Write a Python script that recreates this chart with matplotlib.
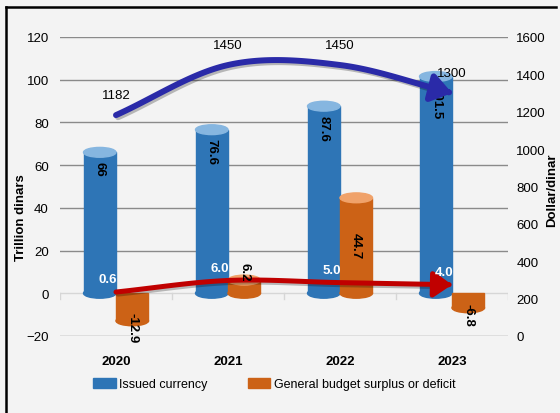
import numpy as np
import matplotlib
matplotlib.use("Agg")
import matplotlib.pyplot as plt
from matplotlib.patches import Rectangle, Ellipse, FancyArrowPatch
from matplotlib.path import Path
from matplotlib.lines import Line2D
import matplotlib.patheffects as pe

plt.rcParams["font.family"] = ["Liberation Sans", "DejaVu Sans"]
plt.rcParams["font.size"] = 9

# data
years = ["2020", "2021", "2022", "2023"]
issued_currency = [66, 76.6, 87.6, 101.5]          # trillion dinars
budget_balance = [-12.9, 6.2, 44.7, -6.8]          # trillion dinars
exchange_rate = [1182, 1450, 1450, 1300]           # dollar/dinar (right axis)
red_series = [0.6, 6.0, 5.0, 4.0]                  # left axis
red_labels = ["0.6", "6.0", "5.0", "4.0"]

BLUE = "#2e75b6"
BLUE_TOP = "#86b6e0"
ORANGE = "#cc6216"
ORANGE_TOP = "#f0a26a"
BG = "#f3f3f3"


def catmull_rom(xs, ys, n=40):
    """smooth curve through the given points"""
    p = np.column_stack([xs, ys]).astype(float)
    p = np.vstack([2 * p[0] - p[1], p, 2 * p[-1] - p[-2]])
    out = []
    for i in range(1, len(p) - 2):
        p0, p1, p2, p3 = p[i - 1], p[i], p[i + 1], p[i + 2]
        t = np.linspace(0, 1, n, endpoint=(i == len(p) - 3))[:, None]
        seg = 0.5 * ((2 * p1) + (-p0 + p2) * t + (2 * p0 - 5 * p1 + 4 * p2 - p3) * t ** 2
                     + (-p0 + 3 * p1 - 3 * p2 + p3) * t ** 3)
        out.append(seg)
    return np.vstack(out)


def cylinder(ax, xc, v, w, color, top_color, cap_h):
    lo, hi = min(0, v), max(0, v)
    ax.add_patch(Ellipse((xc, lo), w, cap_h, color=color, zorder=3))
    ax.add_patch(Rectangle((xc - w / 2, lo), w, hi - lo, color=color, zorder=3))
    if v > 0:
        ax.add_patch(Ellipse((xc, hi), w, cap_h, color=top_color, zorder=4))


def curved_arrow(ax, xs, ys, color, lw, head):
    pts = catmull_rom(xs, ys)
    # soft shadow under the stroke
    ax.plot(pts[:-6, 0], pts[:-6, 1], lw=lw, solid_capstyle="round", zorder=5,
            path_effects=[pe.SimpleLineShadow(offset=(1.5, -1.5), alpha=0.25)])
    arr = FancyArrowPatch(path=Path(pts), arrowstyle="-|>,head_length=1.0,head_width=0.7",
                          mutation_scale=head, color=color, lw=lw, zorder=6,
                          transform=ax.transData)
    ax.add_patch(arr)


fig = plt.figure(figsize=(5.6, 4.14), dpi=100, facecolor=BG)
ax = fig.add_axes([60 / 560, 1 - 337 / 414, 448 / 560, 299 / 414])
ax.set_facecolor(BG)
ax2 = ax.twinx()

x = np.arange(len(years))
w = 0.29
cap_h = 4.6

ax.set_xlim(-0.5, 3.5)
ax.set_ylim(-20, 120)
ax2.set_ylim(0, 1600)

# grid
for gy in [-20, 20, 40, 60, 80, 100, 120]:
    ax.axhline(gy, color="#8a8a8a", lw=1.0, zorder=1)
ax.axhline(0, color="#d6d6d6", lw=1.0, zorder=1)
for b in np.arange(-0.5, 4.0, 1.0):
    ax.plot([b, b], [0, -2.5], color="#d6d6d6", lw=1.0, zorder=1)

for i in range(len(years)):
    cylinder(ax, x[i] - w / 2, issued_currency[i], w, BLUE, BLUE_TOP, cap_h)
    cylinder(ax, x[i] + w / 2, budget_balance[i], w, ORANGE, ORANGE_TOP, cap_h)

    v = issued_currency[i]
    ax.text(x[i] - w / 2, v - 4, f"{v:g}", rotation=270, ha="center", va="top",
            fontsize=9.5, fontweight="bold", color="black", zorder=7)
    b = budget_balance[i]
    if b < 0:
        by = b - 3
    elif b > 20:
        by = b / 2
    else:
        by = b + 4
    ax.text(x[i] + w / 2, by, f"{b:g}", rotation=270, ha="center", va="center",
            fontsize=9.5, fontweight="bold", color="black", zorder=7)

# red arrow on left axis
curved_arrow(ax, x, red_series, "#c00000", 3.6, 11)
for i, lab in enumerate(red_labels):
    ax.annotate(lab, (x[i], red_series[i]), xytext=(-6, 5), textcoords="offset points",
                ha="center", va="bottom", color="white", fontsize=9.5,
                fontweight="bold", zorder=8)

# blue arrow on right axis
curved_arrow(ax2, x, exchange_rate, "#2a2aa8", 4.3, 12)
for i, val in enumerate(exchange_rate):
    ax2.annotate(str(val), (x[i], val), xytext=(0, 10), textcoords="offset points",
                 ha="center", va="bottom", fontsize=9.5, color="black")

# axes styling
for a in (ax, ax2):
    for s in a.spines.values():
        s.set_visible(False)
ax.set_yticks(range(-20, 121, 20))
ax.tick_params(axis="y", length=0, pad=8, labelsize=9.5)
ax.set_xticks(x)
ax.set_xticklabels(years, fontweight="bold", fontsize=9.5)
ax.tick_params(axis="x", length=0, pad=14)
ax2.set_yticks(range(0, 1601, 200))
ax2.tick_params(axis="y", length=0, pad=6, labelsize=9.5)

fig.text(21 / 560, 1 - 218 / 414, "Trillion dinars", rotation=90, ha="center",
         va="center", fontsize=9.5, fontweight="bold")
fig.text(552 / 560, 1 - 190 / 414, "Dollar/dinar", rotation=90, ha="center",
         va="center", fontsize=9.5, fontweight="bold")

handles = [Rectangle((0, 0), 1, 1, color=BLUE), Rectangle((0, 0), 1, 1, color=ORANGE)]
fig.legend(handles, ["Issued currency", "General budget surplus or deficit"],
           loc="center left", bbox_to_anchor=(88 / 560, 1 - 385 / 414), ncol=2,
           frameon=False, fontsize=9, handlelength=1.8, handleheight=0.8,
           handletextpad=0.3, columnspacing=3.2, borderaxespad=0)

# frame lines (top and left)
fig.add_artist(Line2D([6 / 560, 556 / 560], [1 - 8 / 414, 1 - 8 / 414],
                      transform=fig.transFigure, color="black", lw=1.8))
fig.add_artist(Line2D([6 / 560, 6 / 560], [0, 1 - 8 / 414],
                      transform=fig.transFigure, color="black", lw=1.8))

fig.savefig("out.png", dpi=100, facecolor=BG)
